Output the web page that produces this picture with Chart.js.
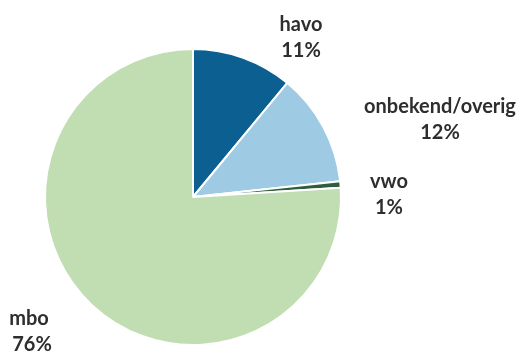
<!DOCTYPE html>
<html>
<head>
<meta charset="utf-8">
<script src="https://cdn.jsdelivr.net/npm/chart.js@4/dist/chart.umd.min.js"></script>
<style>
  html, body { margin: 0; padding: 0; background: #fff; }
  #wrap { width: 526px; height: 354px; position: relative; }
</style>
</head>
<body>
<div id="wrap"><canvas id="chart"></canvas></div>
<script>
const categories = ["havo", "onbekend/overig", "vwo", "mbo"];
const shares = [11, 12.3, 0.7, 76];
const sliceColors = ["#0b5f91", "#9ecae4", "#2f5e3c", "#c1ddb2"];

// where each category label sits (text centre, first line), canvas px
const labelSpots = [[301, 25], [440, 107], [389, 182], [29, 319]];

const outsideLabels = {
  id: "outsideLabels",
  afterDraw(chart) {
    const ctx = chart.ctx;
    const data = chart.data.datasets[0].data;
    ctx.save();
    ctx.fillStyle = "#2e2e2e";
    ctx.font = "bold 20px Lato";
    ctx.textAlign = "center";
    ctx.textBaseline = "middle";
    chart.data.labels.forEach((name, i) => {
      const [x, y] = labelSpots[i];
      ctx.fillText(name, x, y);
      ctx.fillText(Math.round(data[i]) + "%", x + (i == 3 ? 3 : 0), y + 26);
    });
    ctx.restore();
  }
};

const chart = new Chart(document.getElementById("chart"), {
  type: "pie",
  data: {
    labels: categories,
    datasets: [{
      data: shares,
      backgroundColor: sliceColors,
      borderColor: "#ffffff",
      borderWidth: 2
    }]
  },
  options: {
    responsive: true,
    maintainAspectRatio: false,
    animation: false,
    layout: { padding: { left: 44, right: 184, top: 48, bottom: 8 } },
    plugins: {
      legend: { display: false },
      tooltip: { enabled: false }
    }
  },
  plugins: [outsideLabels]
});
</script>
</body>
</html>
